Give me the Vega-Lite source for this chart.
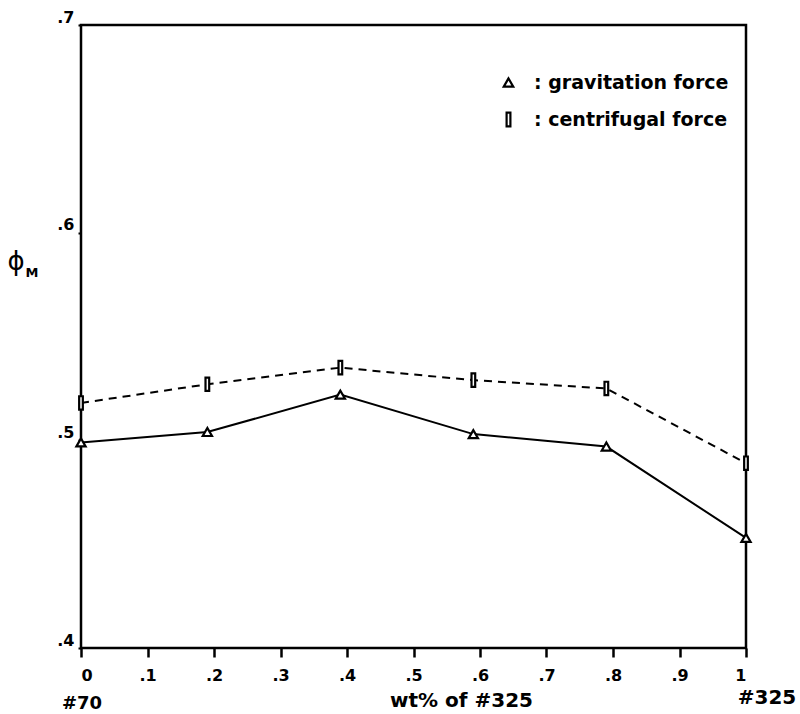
{
  "$schema": "https://vega.github.io/schema/vega-lite/v6.json",
  "width": 665,
  "height": 623,
  "autosize": {"type": "none"},
  "padding": {"left": 81, "top": 25, "right": 54, "bottom": 66},
  "background": "white",
  "config": {
    "view": {"stroke": "black", "strokeWidth": 2.5},
    "font": "DejaVu Sans",
    "axis": {"grid": false, "domain": false, "labelColor": "black", "titleColor": "black", "tickColor": "black"}
  },
  "datasets": {
    "series": [
      {"wt": 0.0, "phi": 0.499, "force": "gravitation force"},
      {"wt": 0.19, "phi": 0.504, "force": "gravitation force"},
      {"wt": 0.39, "phi": 0.522, "force": "gravitation force"},
      {"wt": 0.59, "phi": 0.503, "force": "gravitation force"},
      {"wt": 0.79, "phi": 0.497, "force": "gravitation force"},
      {"wt": 1.0, "phi": 0.453, "force": "gravitation force"},
      {"wt": 0.0, "phi": 0.518, "force": "centrifugal force"},
      {"wt": 0.19, "phi": 0.527, "force": "centrifugal force"},
      {"wt": 0.39, "phi": 0.535, "force": "centrifugal force"},
      {"wt": 0.59, "phi": 0.529, "force": "centrifugal force"},
      {"wt": 0.79, "phi": 0.525, "force": "centrifugal force"},
      {"wt": 1.0, "phi": 0.489, "force": "centrifugal force"}
    ]
  },
  "layer": [
    {
      "data": {"name": "series"},
      "transform": [{"filter": "datum.force == 'gravitation force'"}],
      "mark": {"type": "line", "color": "black", "strokeWidth": 2},
      "encoding": {
        "x": {
          "field": "wt", "type": "quantitative",
          "scale": {"domain": [0, 1], "nice": false, "zero": false},
          "axis": {
            "values": [0, 0.1, 0.2, 0.3, 0.4, 0.5, 0.6, 0.7, 0.8, 0.9, 1],
            "labelExpr": "datum.value == 0 ? '0' : datum.value == 1 ? '1' : replace(format(datum.value, '.1f'), '0.', '.')",
            "tickSize": 9, "tickWidth": 2.5,
            "labelFontSize": 16, "labelFontWeight": "bold", "labelPadding": 10,
            "title": "wt% of #325", "titleFontSize": 20, "titleFontWeight": "bold",
            "titleBaseline": "alphabetic", "titlePadding": 23,
            "titleX": 380, "titleAlign": "center"
          }
        },
        "y": {
          "field": "phi", "type": "quantitative",
          "scale": {"domain": [0.4, 0.7], "nice": false, "zero": false},
          "axis": {
            "values": [0.4, 0.5, 0.6, 0.7],
            "labelExpr": "replace(format(datum.value, '.1f'), '0.', '.')",
            "tickSize": 3, "tickWidth": 2,
            "labelFontSize": 16, "labelFontWeight": "bold", "labelBaseline": "bottom", "labelPadding": 4,
            "title": null
          }
        }
      }
    },
    {
      "data": {"name": "series"},
      "transform": [{"filter": "datum.force == 'centrifugal force'"}],
      "mark": {"type": "line", "color": "black", "strokeWidth": 2, "strokeDash": [8, 6]},
      "encoding": {
        "x": {"field": "wt", "type": "quantitative"},
        "y": {"field": "phi", "type": "quantitative"}
      }
    },
    {
      "data": {"name": "series"},
      "transform": [{"filter": "datum.force == 'gravitation force'"}],
      "mark": {"type": "point", "shape": "triangle-up", "filled": true, "color": "white", "opacity": 1, "size": 85},
      "encoding": {
        "x": {"field": "wt", "type": "quantitative"},
        "y": {"field": "phi", "type": "quantitative"}
      }
    },
    {
      "data": {"name": "series"},
      "transform": [{"filter": "datum.force == 'centrifugal force'"}],
      "mark": {"type": "point", "shape": "M-0.4,-1.45H0.4V1.45H-0.4Z", "filled": true, "color": "white", "opacity": 1, "size": 85},
      "encoding": {
        "x": {"field": "wt", "type": "quantitative"},
        "y": {"field": "phi", "type": "quantitative"}
      }
    },
    {
      "data": {"name": "series"},
      "mark": {"type": "point", "color": "black", "filled": false, "strokeWidth": 2.2, "size": 85, "opacity": 1},
      "encoding": {
        "x": {"field": "wt", "type": "quantitative"},
        "y": {"field": "phi", "type": "quantitative"},
        "shape": {
          "field": "force", "type": "nominal",
          "scale": {"domain": ["gravitation force", "centrifugal force"], "range": ["triangle-up", "M-0.4,-1.45H0.4V1.45H-0.4Z"]},
          "legend": {
            "title": null, "orient": "none", "legendX": 418, "legendY": 48,
            "labelExpr": "':  ' + datum.label",
            "labelFontSize": 19, "labelFontWeight": "bold", "labelColor": "black", "labelLimit": 400, "rowPadding": 15,
            "symbolStrokeWidth": 2.2, "symbolSize": 90, "labelOffset": 16
          }
        }
      }
    },
    {
      "data": {"values": [{"wt": 0, "label": "#70"}]},
      "mark": {"type": "text", "fontSize": 18, "fontWeight": "bold", "color": "black", "dy": 56, "dx": 1},
      "encoding": {
        "x": {"field": "wt", "type": "quantitative"},
        "y": {"datum": 0.4},
        "text": {"field": "label"}
      }
    },
    {
      "data": {"values": [{"wt": 1, "label": "#325"}]},
      "mark": {"type": "text", "fontSize": 20, "fontWeight": "bold", "color": "black", "dy": 50, "dx": 21},
      "encoding": {
        "x": {"field": "wt", "type": "quantitative"},
        "y": {"datum": 0.4},
        "text": {"field": "label"}
      }
    },
    {
      "data": {"values": [{"wt": 0, "label": "ϕ"}]},
      "mark": {"type": "text", "fontSize": 26, "color": "black", "dx": -65, "dy": 29},
      "encoding": {
        "x": {"field": "wt", "type": "quantitative"},
        "y": {"datum": 0.6},
        "text": {"field": "label"}
      }
    },
    {
      "data": {"values": [{"wt": 0, "label": "M"}]},
      "mark": {"type": "text", "fontSize": 13, "fontWeight": "bold", "color": "black", "dx": -49, "dy": 40},
      "encoding": {
        "x": {"field": "wt", "type": "quantitative"},
        "y": {"datum": 0.6},
        "text": {"field": "label"}
      }
    }
  ]
}
